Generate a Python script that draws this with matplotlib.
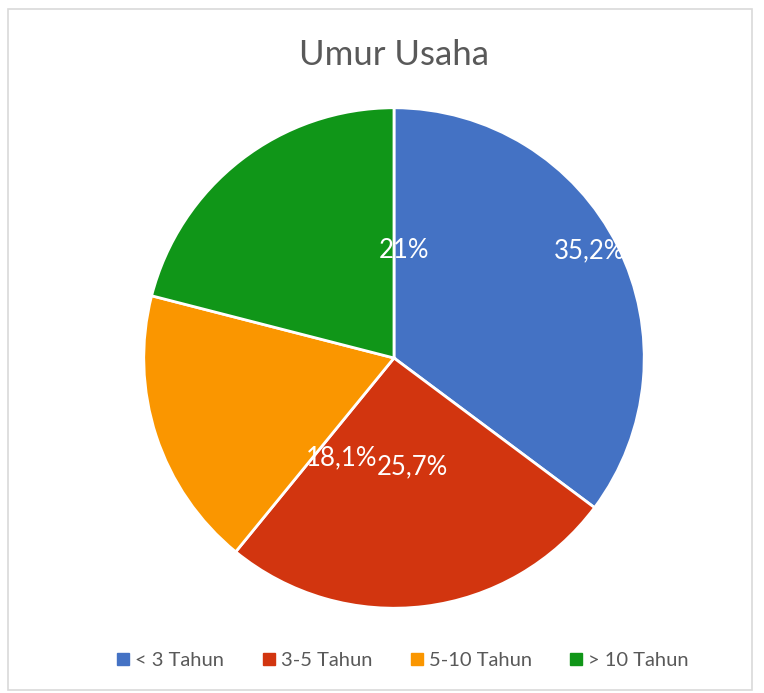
import matplotlib
matplotlib.use("Agg")
from matplotlib import pyplot as plt
from matplotlib.patches import Rectangle
from matplotlib.lines import Line2D

# data
categories = ["< 3 Tahun", "3-5 Tahun", "5-10 Tahun", "> 10 Tahun"]
values = [35.2, 25.7, 18.1, 21.0]
value_labels = ["35,2%", "25,7%", "18,1%", "21%"]
colors = ["#4472C4", "#D2350F", "#FA9600", "#109618"]

# label positions (Excel manual placement), pie radius = 1
label_pos = [(0.78, 0.43), (0.072, -0.434), (-0.21, -0.40), (0.04, 0.43)]

plt.rcParams['font.family'] = ['Lato', 'DejaVu Sans']

fig = plt.figure(figsize=(7.64, 6.93), dpi=100)
fig.patch.set_facecolor("white")

# chart border
fig.patches.append(Rectangle((0.0105, 0.0043), 0.974, 0.983, transform=fig.transFigure,
                             fill=False, edgecolor="#D9D9D9", linewidth=1.2))

ax = fig.add_axes([0.1898, 0.1241, 0.6518, 0.7186])
wedges, _ = ax.pie(values, colors=colors, startangle=90, counterclock=False,
                   radius=1, wedgeprops=dict(edgecolor="white", linewidth=2))
ax.set_xlim(-0.995, 0.995)
ax.set_ylim(-0.995, 0.995)
ax.set_aspect("equal")
ax.axis("off")

for txt, (x, y) in zip(value_labels, label_pos):
    ax.text(x, y, txt, color="white", fontsize=18.5, ha="center", va="center")

fig.text(0.516, 1 - 55 / 693, "Umur Usaha", ha="center", va="center",
         fontsize=25, color="#595959")

handles = [Line2D([0], [0], marker="s", linestyle="", markersize=8,
                  markerfacecolor=c, markeredgecolor=c) for c in colors]
fig.legend(handles, categories, loc="center", bbox_to_anchor=(0.525, 1 - 660 / 693),
           ncol=4, frameon=False, fontsize=14.5, labelcolor="#595959",
           handletextpad=0.1, columnspacing=1.7, handlelength=1.0)

fig.savefig("out.png", dpi=100)
